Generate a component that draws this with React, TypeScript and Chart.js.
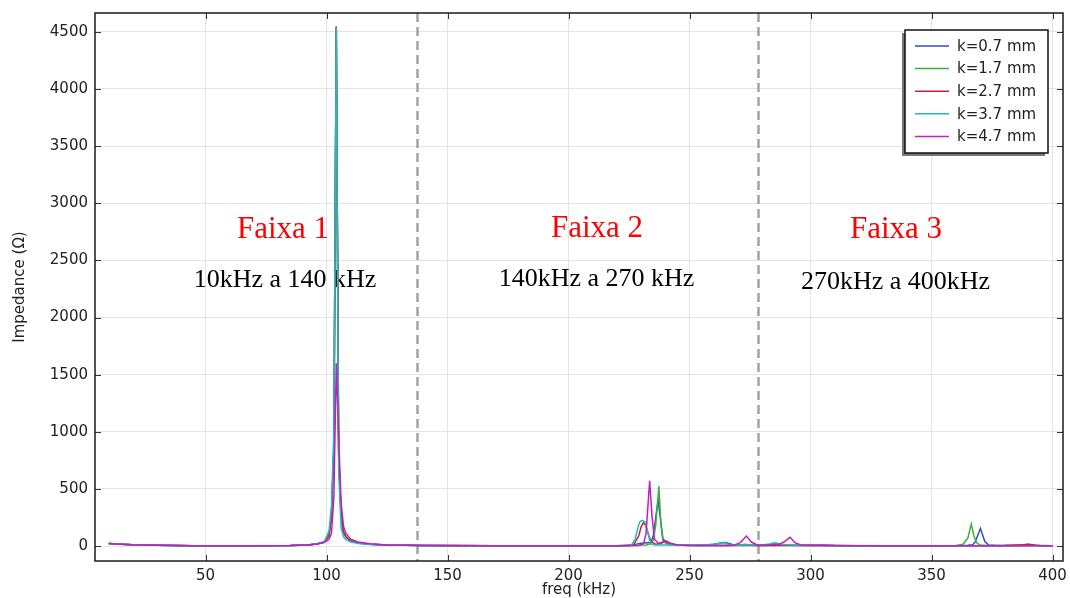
import React, { useEffect, useRef } from 'react';
import { Chart, registerables } from 'chart.js';

Chart.register(...registerables);

// ---------- data ----------
const seriesLabels = ['k=0.7 mm', 'k=1.7 mm', 'k=2.7 mm', 'k=3.7 mm', 'k=4.7 mm'];
const seriesColors = ['#3050c0', '#3cb043', '#c8203a', '#20bcbc', '#c020c0'];

const freqK07 = [10, 15, 20, 30, 45, 70, 85, 92, 96, 99,
  101, 102, 103, 104, 105, 106, 107, 108, 110, 113, 118, 125, 140,
  170, 200, 220, 226, 230, 234,
  235, 236, 237, 238, 239, 241, 244,
  250, 256, 260, 263, 265, 268, 275,
  280, 283, 286, 289, 295, 305, 320, 340, 355,
  362, 365, 367, 368, 369, 370.2, 371.2, 372, 373.5, 377, 382,
  388, 391, 395, 400];
const impK07 = [22, 16, 11, 6, 3, 2, 4, 9, 18, 35,
  90, 260, 850, 4540, 800, 260, 120, 80, 45, 28, 15, 8, 4,
  2, 2, 3, 8, 25, 30,
  90, 250, 400, 230, 60, 22, 10,
  6, 10, 16, 26, 30, 12, 6,
  5, 12, 24, 10, 6, 4, 3, 3, 3,
  4, 6, 12, 35, 90, 154, 90, 40, 10, 5, 4,
  6, 10, 5, 2];

const freqK17 = [10, 15, 20, 30, 45, 70, 85, 92, 96, 99,
  101, 102, 103, 104, 105, 106, 107, 108, 110, 113, 118, 125, 140,
  170, 200, 220, 228, 232, 234, 235, 236, 237.3, 238.2, 239, 241, 245,
  255, 265, 270, 273, 275, 278, 285, 288, 290, 293, 300, 320, 340, 355,
  360, 363, 365, 366.4, 367.5, 368.5, 370, 373, 378, 385, 388, 390, 393, 400];
const impK17 = [22, 16, 11, 6, 3, 2, 4, 9, 18, 35,
  90, 260, 850, 4540, 800, 260, 120, 80, 45, 28, 15, 8, 4,
  2, 2, 3, 6, 10, 20, 50, 180, 524, 180, 40, 15, 6,
  4, 5, 6, 15, 8, 5, 5, 10, 12, 5, 4, 3, 3, 3,
  5, 15, 70, 192, 90, 30, 8, 5, 4, 5, 12, 15, 6, 3];

const freqK27 = [10, 15, 20, 30, 45, 70, 85, 92, 96, 99,
  101, 102, 103, 104, 105, 106, 107, 108, 110, 113, 118, 125, 140,
  170, 200, 220, 225, 227, 229, 230, 231, 232, 233, 234, 236, 238, 240, 242, 245, 250,
  270, 300, 330, 360, 380, 388, 390, 393, 400];
const impK27 = [22, 16, 11, 6, 3, 2, 4, 9, 18, 35,
  90, 260, 850, 4550, 800, 260, 120, 80, 45, 28, 15, 8, 4,
  2, 2, 3, 5, 15, 90, 170, 205, 175, 100, 40, 15, 20, 45, 25, 8, 4,
  4, 4, 3, 3, 4, 12, 15, 5, 3];

const freqK37 = [10, 15, 20, 30, 45, 70, 85, 92, 96, 99,
  101, 102, 103, 104, 105, 106, 107, 108, 110, 113, 118, 125, 140,
  170, 200, 218, 224, 226, 227.5, 228.5, 229.5, 230.5, 231.5, 232.5, 233.5, 234.5, 236,
  240, 250, 255, 258, 262, 264, 266, 270,
  276, 280, 283, 285, 287, 292, 300, 320, 350, 380, 400];
const impK37 = [22, 16, 11, 6, 3, 2, 4, 9, 18, 35,
  130, 350, 1000, 4540, 650, 160, 80, 55, 35, 22, 14, 8, 4,
  2, 2, 3, 5, 10, 60, 150, 215, 225, 210, 140, 50, 15, 8,
  8, 8, 12, 10, 22, 32, 15, 6,
  8, 10, 18, 28, 15, 8, 5, 3, 3, 3, 2];

const freqK47 = [10, 15, 20, 30, 45, 70, 85, 92, 96, 99,
  101, 102, 103, 104, 105, 106, 107, 108, 110, 113, 118, 125, 140,
  170, 200, 225, 229, 231, 232, 233.5, 234.5, 235.5, 237, 238.5, 240, 242, 245, 250,
  265, 268, 271, 273.5, 275.5, 278, 284, 287, 289, 291.5, 293.5, 296, 300, 305, 310,
  330, 360, 390, 400];
const impK47 = [22, 16, 11, 6, 3, 2, 4, 9, 18, 30,
  60, 110, 420, 1600, 950, 380, 170, 110, 60, 35, 20, 10, 4,
  2, 2, 3, 4, 20, 110, 570, 250, 60, 25, 30, 45, 25, 10, 5,
  4, 6, 30, 87, 35, 10, 8, 15, 35, 76, 30, 10, 6, 8, 4,
  3, 3, 3, 2];

const seriesFreqs = [freqK07, freqK17, freqK27, freqK37, freqK47];
const seriesValues = [impK07, impK17, impK27, impK37, impK47];

const xTickValues = [50, 100, 150, 200, 250, 300, 350, 400];
const yTickValues = [0, 500, 1000, 1500, 2000, 2500, 3000, 3500, 4000, 4500];
const bandEdges = [137.3, 278.4];
const bandTitles = ['Faixa 1', 'Faixa 2', 'Faixa 3'];
const bandRanges = ['10kHz a 140 kHz', '140kHz a 270 kHz', '270kHz a 400kHz'];

// ---------- layout / style (pixels) ----------
const W = 1070;
const H = 598;
const SANS = '"DejaVu Sans", sans-serif';
const SERIF = '"Liberation Serif", "Times New Roman", serif';
const titlePos = [
  { x: 283, y: 237.5 },
  { x: 597, y: 236.7 },
  { x: 896, y: 238.3 },
];
const rangePos = [
  { x: 285, y: 287.3 },
  { x: 596.5, y: 286 },
  { x: 895.5, y: 289.3 },
];

const overlayPlugin = {
  id: 'overlay',
  beforeDatasetsDraw(chart: any) {
    const { ctx, chartArea: a, scales } = chart;
    ctx.save();
    ctx.strokeStyle = '#a3a3a3';
    ctx.lineWidth = 2.5;
    ctx.setLineDash([9, 5]);
    bandEdges.forEach((v) => {
      const px = Math.round(scales.x.getPixelForValue(v)) + 0.5;
      ctx.beginPath();
      ctx.moveTo(px, a.top);
      ctx.lineTo(px, a.bottom);
      ctx.stroke();
    });
    ctx.setLineDash([]);
    ctx.textAlign = 'center';
    ctx.textBaseline = 'alphabetic';
    ctx.fillStyle = '#ff0000';
    ctx.font = `31px ${SERIF}`;
    bandTitles.forEach((t, i) => ctx.fillText(t, titlePos[i].x, titlePos[i].y));
    ctx.fillStyle = '#000000';
    ctx.font = `26px ${SERIF}`;
    bandRanges.forEach((t, i) => ctx.fillText(t, rangePos[i].x, rangePos[i].y));
    ctx.restore();
  },
  afterDatasetsDraw(chart: any) {
    const { ctx, chartArea: a, scales } = chart;
    ctx.save();
    ctx.strokeStyle = '#333';
    ctx.lineWidth = 1;
    const tl = 6;
    xTickValues.forEach((v) => {
      const px = Math.round(scales.x.getPixelForValue(v)) + 0.5;
      ctx.beginPath();
      ctx.moveTo(px, a.bottom);
      ctx.lineTo(px, a.bottom - tl);
      ctx.moveTo(px, a.top);
      ctx.lineTo(px, a.top + tl);
      ctx.stroke();
    });
    yTickValues.forEach((v) => {
      const py = Math.round(scales.y.getPixelForValue(v)) + 0.5;
      ctx.beginPath();
      ctx.moveTo(a.left, py);
      ctx.lineTo(a.left + tl, py);
      ctx.moveTo(a.right, py);
      ctx.lineTo(a.right - tl, py);
      ctx.stroke();
    });
    ctx.strokeStyle = '#1a1a1a';
    ctx.lineWidth = 1.5;
    ctx.strokeRect(a.left, a.top, a.right - a.left, a.bottom - a.top);

    // legend
    const lx = 905;
    const ly = 30;
    const lw = 143;
    const lh = 123;
    ctx.fillStyle = '#777';
    ctx.fillRect(lx - 3, ly + 3, lw, lh);
    ctx.fillStyle = '#fff';
    ctx.fillRect(lx, ly, lw, lh);
    ctx.strokeStyle = '#111';
    ctx.lineWidth = 1.5;
    ctx.strokeRect(lx, ly, lw, lh);
    ctx.font = `15px ${SANS}`;
    ctx.textAlign = 'left';
    ctx.textBaseline = 'middle';
    seriesLabels.forEach((lab, i) => {
      const y = 46 + i * 22.6;
      ctx.strokeStyle = seriesColors[i];
      ctx.lineWidth = 1.5;
      ctx.beginPath();
      ctx.moveTo(915, y);
      ctx.lineTo(949, y);
      ctx.stroke();
      ctx.fillStyle = '#222';
      ctx.fillText(lab, 957, y + 1);
    });
    ctx.restore();
  },
};

export default function App() {
  const ref = useRef<HTMLCanvasElement | null>(null);

  useEffect(() => {
    if (!ref.current) return;
    const datasets = seriesLabels.map((label, i) => ({
      label,
      data: seriesFreqs[i].map((f, j) => ({ x: f, y: seriesValues[i][j] })),
      borderColor: seriesColors[i],
      backgroundColor: seriesColors[i],
      borderWidth: 1.5,
      pointRadius: 0,
      tension: 0,
      fill: false,
      order: seriesLabels.length - 1 - i,
    }));

    const chart = new Chart(ref.current, {
      type: 'line',
      data: { datasets },
      options: {
        responsive: false,
        animation: false,
        devicePixelRatio: 1,
        layout: { padding: { top: 13, right: 7, left: 0, bottom: 0 } },
        plugins: {
          legend: { display: false },
          tooltip: { enabled: false },
          title: { display: false },
        },
        scales: {
          x: {
            type: 'linear',
            position: 'bottom',
            min: 4.3,
            max: 404.3,
            border: { display: false },
            grid: { color: '#e4e4e4', lineWidth: 1, drawTicks: false },
            ticks: {
              font: { family: SANS, size: 15 },
              color: '#222',
              padding: 6,
              maxRotation: 0,
              callback: (v: any) => String(v),
            },
            afterBuildTicks: (scale: any) => {
              scale.ticks = xTickValues.map((v) => ({ value: v }));
            },
            afterFit: (scale: any) => {
              scale.height = 37;
              scale.paddingLeft = 0;
              scale.paddingRight = 0;
            },
            title: {
              display: true,
              text: 'freq (kHz)',
              font: { family: SANS, size: 15 },
              color: '#222',
              padding: { top: 0, bottom: -1 },
            },
          },
          y: {
            type: 'linear',
            min: -131,
            max: 4665,
            border: { display: false },
            grid: { color: '#e4e4e4', lineWidth: 1, drawTicks: false },
            ticks: {
              font: { family: SANS, size: 15 },
              color: '#222',
              padding: 7,
              callback: (v: any) => String(v),
            },
            afterBuildTicks: (scale: any) => {
              scale.ticks = yTickValues.map((v) => ({ value: v }));
            },
            afterFit: (scale: any) => {
              scale.width = 95;
              scale.paddingTop = 0;
              scale.paddingBottom = 0;
            },
            title: {
              display: true,
              text: 'Impedance (Ω)',
              font: { family: SANS, size: 15 },
              color: '#222',
              padding: { top: 11, bottom: 0 },
            },
          },
        },
      },
      plugins: [overlayPlugin],
    });
    return () => chart.destroy();
  }, []);

  return (
    <div style={{ position: 'fixed', left: 0, top: 0, width: W, height: H, background: '#fff' }}>
      <canvas ref={ref} width={W} height={H} style={{ width: W, height: H, display: 'block' }} />
    </div>
  );
}
